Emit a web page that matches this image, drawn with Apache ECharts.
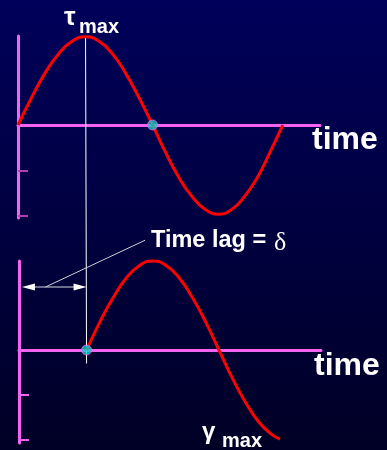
<!DOCTYPE html>
<html>
<head>
<meta charset="utf-8">
<script src="https://cdn.jsdelivr.net/npm/echarts@6/dist/echarts.min.js"></script>
<style>
  html, body { margin: 0; padding: 0; background: #000040; }
  #chart { width: 387px; height: 450px; }
</style>
</head>
<body>
<div id="chart"></div>
<script>
// Shear stress (top) and shear strain (bottom) over time, strain lagging by delta
const stressTime  = [0, 0.51, 1.02, 1.53, 2.04, 2.55, 3.06, 3.57, 4.06, 4.57, 5.08,
                     5.57, 6.08, 6.58, 7.08, 7.57, 8.06, 8.54, 9.03, 9.51, 10.0];
const stressValue = [0, 0.30, 0.57, 0.78, 0.92, 0.97, 0.92, 0.78, 0.57, 0.30, 0,
                     -0.30, -0.58, -0.79, -0.93, -0.98, -0.93, -0.79, -0.58, -0.30, 0];

const strainTime  = [2.55, 3.05, 3.55, 4.05, 4.55, 5.05, 5.55, 6.05, 6.55, 7.05, 7.55,
                     8.05, 8.55, 9.05, 9.55, 9.85];
const strainValue = [0, 0.31, 0.58, 0.80, 0.94, 0.99, 0.94, 0.80, 0.58, 0.31, 0,
                     -0.31, -0.58, -0.80, -0.94, -0.99];

const lagTime = 2.55;        // delta: start of strain cycle
const stressCrossTime = 5.08; // stress passes through zero
const stressPeak = 0.97;
const tickValues = [-0.5, -1.0];

const timeLabel = 'time';
const lagLabel = 'Time lag = ';
const deltaLabel = 'δ';
const tauLabel = 'τ';
const gammaLabel = 'γ';
const maxLabel = 'max';

const PINK = '#f564f0';
const RED = '#ff0000';
const CYAN = '#10c8c8';

const pairs = (xs, ys) => xs.map((x, i) => [x, ys[i]]);

function makeXAxis(gridIndex) {
  return {
    type: 'value', gridIndex, min: 0, max: 11.4,
    axisLine: { show: true, onZero: true, lineStyle: { color: PINK, width: 3 } },
    axisTick: { show: false }, axisLabel: { show: false }, splitLine: { show: false }
  };
}
function makeYAxis(gridIndex, min, max, tickColor) {
  return {
    type: 'value', gridIndex, min, max,
    axisLine: { show: true, onZero: true, lineStyle: { color: PINK, width: 3 } },
    axisTick: { show: true, inside: true, length: 10, customValues: tickValues,
                lineStyle: { color: tickColor, width: 2 } },
    axisLabel: { show: false }, splitLine: { show: false }
  };
}

const chart = echarts.init(document.getElementById('chart'), null, { renderer: 'canvas' });

chart.setOption({
  animation: false,
  backgroundColor: {
    type: 'linear', x: 0, y: 0, x2: 0, y2: 1,
    colorStops: [{ offset: 0, color: '#00005a' }, { offset: 1, color: '#000026' }]
  },
  grid: [
    { left: 18, top: 36, width: 302, height: 182 },
    { left: 19, top: 261, width: 302, height: 182 }
  ],
  xAxis: [makeXAxis(0), makeXAxis(1)],
  yAxis: [
    makeYAxis(0, -1.022, 0.978, '#b040b8'),
    makeYAxis(1, -1.033, 0.989, PINK)
  ],
  series: [
    {
      type: 'line', xAxisIndex: 0, yAxisIndex: 0, data: pairs(stressTime, stressValue),
      smooth: true, showSymbol: false, clip: false, z: 3,
      lineStyle: { color: RED, width: 3 }
    },
    {
      type: 'line', xAxisIndex: 1, yAxisIndex: 1, data: pairs(strainTime, strainValue),
      smooth: true, showSymbol: false, clip: false, z: 3,
      lineStyle: { color: RED, width: 3 }
    },
    {
      type: 'scatter', xAxisIndex: 0, yAxisIndex: 0, data: [[stressCrossTime, 0]],
      symbolSize: 10, z: 5, itemStyle: { color: CYAN, borderColor: PINK, borderWidth: 1 }
    },
    {
      type: 'scatter', xAxisIndex: 1, yAxisIndex: 1, data: [[lagTime, 0]],
      symbolSize: 10, z: 5, itemStyle: { color: CYAN, borderColor: PINK, borderWidth: 1 }
    }
  ]
});

// Annotations placed through the axes' own scales
const px = (g, v) => chart.convertToPixel({ gridIndex: g }, v);
const lagTop = px(0, [lagTime, stressPeak]);
const lagBottom = px(1, [lagTime, -0.15]);
const arrowL = px(1, [0.11, 0.7]);
const arrowR = px(1, [lagTime, 0.7]);
const leaderA = px(1, [1.0, 0.7]);
const leaderB = px(1, [4.76, 1.22]);

const headLen = 13, headHalf = 3.5;
const WHITE = '#ffffff';

function text(str, x, y, font, z) {
  return {
    type: 'text', x, y, z: z || 10,
    style: { text: str, fill: WHITE, font, align: 'left', verticalAlign: 'middle' }
  };
}

chart.setOption({
  graphic: [
    { type: 'line', z: 1, shape: { x1: lagTop[0], y1: lagTop[1], x2: lagBottom[0], y2: lagBottom[1] },
      style: { stroke: WHITE, lineWidth: 1 } },
    { type: 'line', z: 1, shape: { x1: arrowL[0] + 4, y1: arrowL[1], x2: arrowR[0] - 4, y2: arrowR[1] },
      style: { stroke: '#d8d8e0', lineWidth: 1 } },
    { type: 'polygon', z: 1, shape: { points: [[arrowL[0], arrowL[1]],
        [arrowL[0] + headLen, arrowL[1] - headHalf], [arrowL[0] + headLen, arrowL[1] + headHalf]] },
      style: { fill: WHITE } },
    { type: 'polygon', z: 1, shape: { points: [[arrowR[0], arrowR[1]],
        [arrowR[0] - headLen, arrowR[1] - headHalf], [arrowR[0] - headLen, arrowR[1] + headHalf]] },
      style: { fill: WHITE } },
    { type: 'line', z: 1, shape: { x1: leaderA[0], y1: leaderA[1], x2: leaderB[0], y2: leaderB[1] },
      style: { stroke: '#d0d0d8', lineWidth: 1 } },

    text(timeLabel, 312, 139.9, 'bold 32px "Liberation Sans", Arial, sans-serif'),
    text(timeLabel, 314, 365.9, 'bold 32px "Liberation Sans", Arial, sans-serif'),
    text(lagLabel, 151, 240.9, 'bold 23.5px "Liberation Sans", Arial, sans-serif'),
    text(deltaLabel, 274, 243.2, '26px "Liberation Serif", serif'),
    text(tauLabel, 64, 18, 'bold 26px "Liberation Sans", Arial, sans-serif'),
    text(maxLabel, 79, 27.8, 'bold 20px "Liberation Sans", Arial, sans-serif'),
    text(gammaLabel, 202, 432, 'bold 24px "Liberation Sans", Arial, sans-serif'),
    text(maxLabel, 222, 441, 'bold 20px "Liberation Sans", Arial, sans-serif')
  ]
});
</script>
</body>
</html>
